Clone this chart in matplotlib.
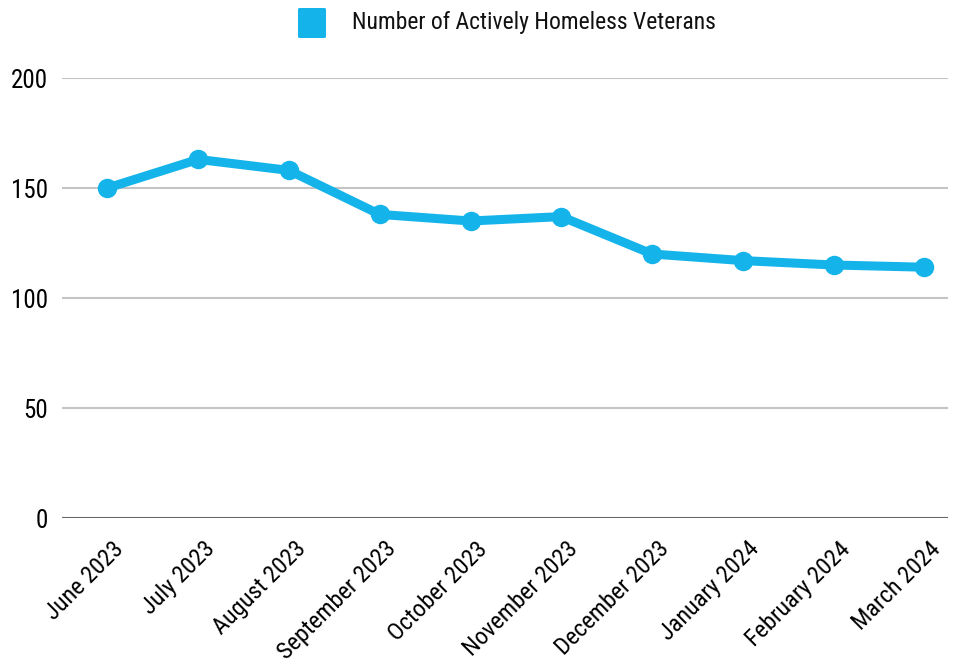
import matplotlib
matplotlib.use("Agg")
import matplotlib.pyplot as plt
from matplotlib.patches import FancyBboxPatch
from matplotlib.transforms import ScaledTranslation
from matplotlib import font_manager

months = ["June 2023", "July 2023", "August 2023", "September 2023", "October 2023",
          "November 2023", "December 2023", "January 2024", "February 2024", "March 2024"]
homeless = [150, 163, 158, 138, 135, 137, 120, 117, 115, 114]
yticks = [0, 50, 100, 150, 200]
series_name = "Number of Actively Homeless Veterans"

avail = {f.name for f in font_manager.fontManager.ttflist}
fam = [f for f in ["Roboto Condensed", "Liberation Sans Narrow", "Lato", "DejaVu Sans"] if f in avail]
plt.rcParams['font.family'] = fam

color = "#14B4EA"
W, H = 958, 664
fig = plt.figure(figsize=(W/100, H/100), dpi=100)
ax = fig.add_axes([62/W, 1-518/H, (948-62)/W, (518-78)/H])

x = list(range(len(months)))
ax.plot(x, homeless, color=color, lw=6.5, marker="o", ms=13, clip_on=False, zorder=3,
        solid_capstyle="round", solid_joinstyle="round")

ax.set_ylim(0, 200)
ax.set_xlim(-0.5, 9.26)
ax.set_yticks(yticks)
ax.set_yticklabels([str(v) for v in yticks], fontsize=18)
ax.set_xticks(x)
ax.set_xticklabels(months, rotation=45, ha="right", rotation_mode="anchor", fontsize=17.5)
ax.tick_params(axis="both", length=0)
ax.tick_params(axis="y", pad=10)
ax.tick_params(axis="x", pad=14)
offset = ScaledTranslation(5/100, 0, fig.dpi_scale_trans)
for lbl in ax.get_xticklabels():
    lbl.set_transform(lbl.get_transform() + offset)
for s in ["top", "right", "left", "bottom"]:
    ax.spines[s].set_visible(False)
for v in yticks:
    ax.axhline(v, color="#666666" if v == 0 else "#c4c4c4", lw=1.5, zorder=1)

# legend
sq = FancyBboxPatch((298/W, 1-38/H), 28/W, 30/H, boxstyle="round,pad=0,rounding_size=0.002",
                    transform=fig.transFigure, facecolor=color, edgecolor="none")
fig.add_artist(sq)
fig.text(352/W, 1-23/H, series_name, fontsize=17, va="center", ha="left", color="#111111")

fig.savefig("out.png", dpi=100)
